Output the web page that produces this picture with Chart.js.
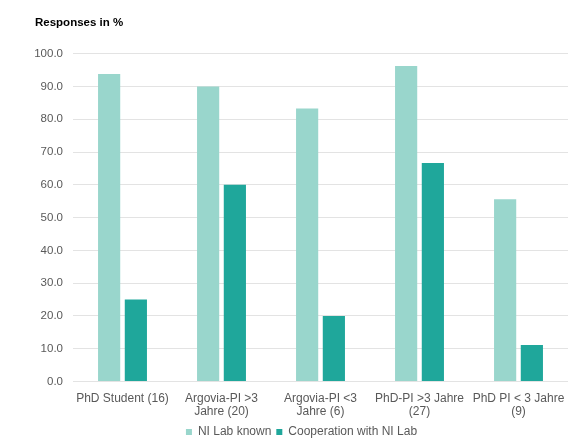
<!DOCTYPE html>
<html>
<head>
<meta charset="utf-8">
<script src="https://cdn.jsdelivr.net/npm/chart.js@4"></script>
<style>
  html, body { margin: 0; padding: 0; background: #fff; }
  #wrap { width: 588px; height: 443px; }
</style>
</head>
<body>
<div id="wrap"><canvas id="chart"></canvas></div>
<script>
// Données du graphique
const categories = [
    ['PhD Student (16)'],
    ['Argovia-PI >3', 'Jahre (20)'],
    ['Argovia-PI <3', 'Jahre (6)'],
    ['PhD-PI >3 Jahre', '(27)'],
    ['PhD PI < 3 Jahre', '(9)']
];
const labKnown = [93.8, 90.0, 83.3, 96.3, 55.6];
const cooperation = [25.0, 60.0, 20.0, 66.7, 11.1];
const seriesNames = ['NI Lab known', 'Cooperation with NI Lab'];

const lightColor = '#99d6cc';
const darkColor = '#1fa79b';

Chart.defaults.font.family = '"Liberation Sans", Arial, sans-serif';
Chart.defaults.font.size = 12;
Chart.defaults.color = '#595959';

new Chart(document.getElementById('chart'), {
    type: 'bar',
    data: {
        labels: categories,
        datasets: [
            {
                label: seriesNames[0],
                data: labKnown,
                backgroundColor: lightColor,
                categoryPercentage: 0.54,
                barPercentage: 0.83
            },
            {
                label: seriesNames[1],
                data: cooperation,
                backgroundColor: darkColor,
                categoryPercentage: 0.54,
                barPercentage: 0.83
            }
        ]
    },
    options: {
        responsive: true,
        maintainAspectRatio: false,
        animation: false,
        layout: { padding: { left: 35, right: 20, top: 16, bottom: -5 } },
        plugins: {
            title: {
                display: true,
                text: 'Responses in %',
                align: 'start',
                color: '#000',
                font: { size: 11.5, weight: 'bold' },
                padding: { top: 0, bottom: 24 }
            },
            legend: {
                position: 'bottom',
                labels: {
                    boxWidth: 6,
                    boxHeight: 6,
                    padding: 5,
                    color: '#595959'
                }
            },
            tooltip: { enabled: false }
        },
        scales: {
            y: {
                min: 0,
                max: 100,
                ticks: {
                    stepSize: 10,
                    padding: 10,
                    font: { size: 11.5 },
                    callback: v => v.toFixed(1)
                },
                grid: { color: '#e3e3e3', drawTicks: false },
                border: { display: false },
                afterFit: s => { s.width = 38; }
            },
            x: {
                grid: { display: false },
                border: { display: false },
                ticks: { padding: 2, maxRotation: 0, font: { lineHeight: 1.15 } }
            }
        }
    }
});
</script>
</body>
</html>
